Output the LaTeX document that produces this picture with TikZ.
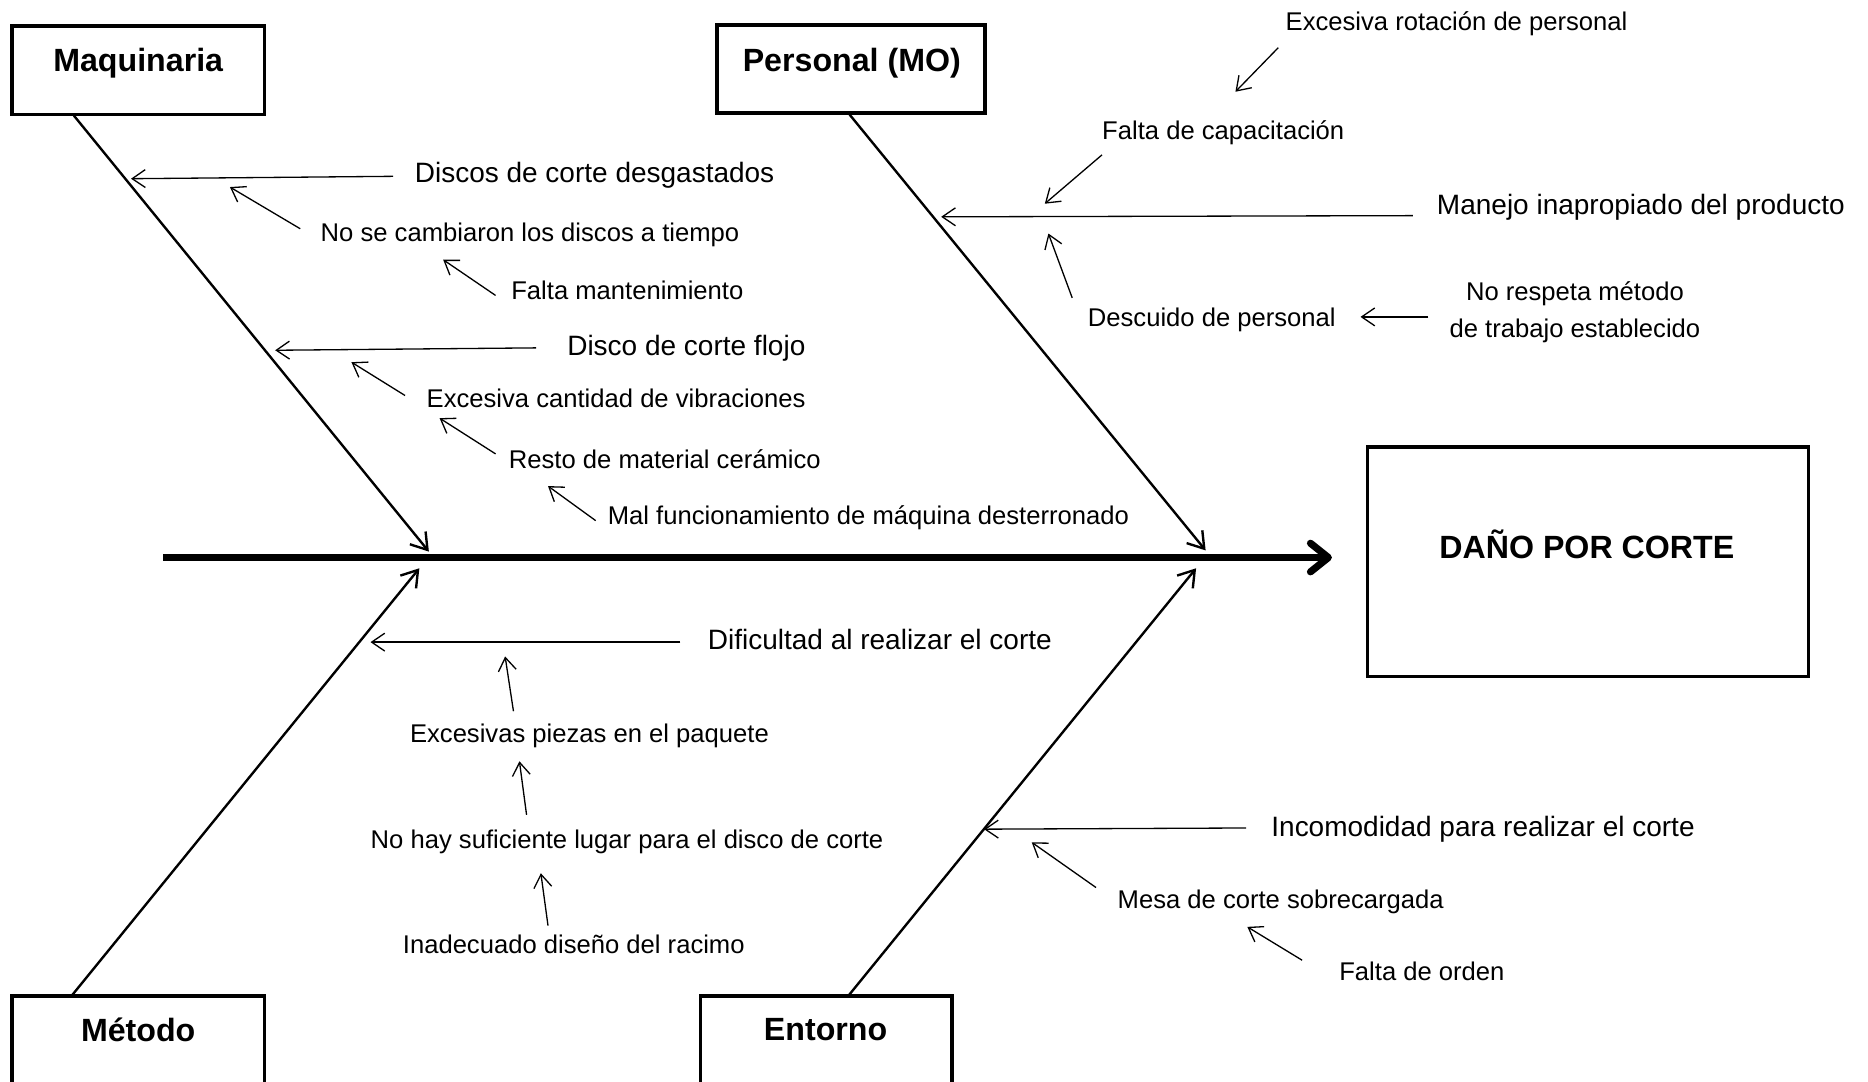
\documentclass[tikz,border=0pt]{standalone}
\usepackage{fontspec}
\setmainfont{Liberation Sans}
\usetikzlibrary{arrows.meta}
\begin{document}
\begin{tikzpicture}[x=1pt,y=-1pt,
  cause/.style={font=\fontsize{23.5}{28}\selectfont, inner sep=0pt, anchor=base west},
  sub/.style={font=\fontsize{21.5}{26}\selectfont, inner sep=0pt, anchor=base west},
  title/.style={font=\fontsize{27}{32}\selectfont\bfseries, inner sep=0pt, anchor=base},
  frame/.style={draw, line width=3pt, inner sep=0pt},
  bone/.style={line width=2pt, -{Straight Barb[length=13pt,width=17pt,line width=2pt]}},
  link/.style={line width=1.1pt, -{Straight Barb[length=11pt,width=15pt]}},
  spine/.style={line width=6.5pt, -{Straight Barb[length=15pt,width=24pt,line width=6pt,round]}}
]
\useasboundingbox (0,0) rectangle (1568,908);

% category boxes
\node[frame, minimum width=212pt, minimum height=74pt] (mq) at (116,59) {};
\node[title] (mqt) at (116,60) {Maquinaria};
\node[frame, minimum width=225pt, minimum height=74pt] (pe) at (714.5,58) {};
\node[title] (pet) at (715,60) {Personal (MO)};
\node[frame, minimum width=212pt, minimum height=74pt] (me) at (116,873) {};
\node[title] (met) at (116,874) {Método};
\node[frame, minimum width=211pt, minimum height=74pt] (en) at (693.5,873) {};
\node[title] (ent) at (693,873) {Entorno};
\node[frame, minimum width=370pt, minimum height=193pt] (ef) at (1333,471.5) {};
\node[title] (eft) at (1332,469) {DAÑO POR CORTE};

% spine
\coordinate (sp0) at (137,468);
\coordinate (sp1) at (1118,468);
\draw[spine] (sp0) -- (sp1);

% main bones
\coordinate (mqa) at (62,97);   \coordinate (mqb) at (360,463);
\coordinate (pea) at (713,96);  \coordinate (peb) at (1012,462);
\coordinate (mea) at (60,836);  \coordinate (meb) at (352,477);
\coordinate (ena) at (712,836); \coordinate (enb) at (1004,477);
\draw[bone] (mqa) -- (mqb);
\draw[bone] (pea) -- (peb);
\draw[bone] (mea) -- (meb);
\draw[bone] (ena) -- (enb);

% Maquinaria
\node[cause] (c1) at (348,153) {Discos de corte desgastados};
\node[sub]   (c1a) at (269,203) {No se cambiaron los discos a tiempo};
\node[sub]   (c1b) at (429,251) {Falta mantenimiento};
\node[cause] (c2) at (476,298) {Disco de corte flojo};
\node[sub]   (c2a) at (358,342) {Excesiva cantidad de vibraciones};
\node[sub]   (c2b) at (427,393) {Resto de material cerámico};
\node[sub]   (c2c) at (510,440) {Mal funcionamiento de máquina desterronado};

% Personal
\node[sub]   (c3b) at (1079,26) {Excesiva rotación de personal};
\node[sub]   (c3a) at (925,117) {Falta de capacitación};
\node[cause] (c3) at (1206,180) {Manejo inapropiado del producto};
\node[sub]   (c3c) at (913,274) {Descuido de personal};
\node[font=\fontsize{21.5}{31}\selectfont, inner sep=0pt, align=center] (c3d) at (1322,262)
  {No respeta método\\de trabajo establecido};

% Método
\node[cause] (c4) at (594,545) {Dificultad al realizar el corte};
\node[sub]   (c4a) at (344,623) {Excesivas piezas en el paquete};
\node[sub]   (c4b) at (311,712) {No hay suficiente lugar para el disco de corte};
\node[sub]   (c4c) at (338,800) {Inadecuado diseño del racimo};

% Entorno
\node[cause] (c5) at (1067,702) {Incomodidad para realizar el corte};
\node[sub]   (c5a) at (938,763) {Mesa de corte sobrecargada};
\node[sub]   (c5b) at (1124,823) {Falta de orden};

% cause arrows
\coordinate (l1s) at (330,148);  \coordinate (l1e) at (110,150);
\coordinate (l2s) at (252,192);  \coordinate (l2e) at (193,157);
\coordinate (l3s) at (416,248);  \coordinate (l3e) at (372,218);
\coordinate (l4s) at (450,292);  \coordinate (l4e) at (231,294);
\coordinate (l5s) at (340,332);  \coordinate (l5e) at (295,304);
\coordinate (l6s) at (416,381);  \coordinate (l6e) at (369,351);
\coordinate (l7s) at (500,437);  \coordinate (l7e) at (460,408);
\coordinate (l8s) at (1073,40);  \coordinate (l8e) at (1037,77);
\coordinate (l9s) at (925,130);  \coordinate (l9e) at (877,171);
\coordinate (l10s) at (1186,181); \coordinate (l10e) at (790,182);
\coordinate (l11s) at (900,250); \coordinate (l11e) at (880,196);
\coordinate (l12s) at (1199,266); \coordinate (l12e) at (1142,266);
\coordinate (l13s) at (571,539); \coordinate (l13e) at (311,539);
\coordinate (l14s) at (431,597); \coordinate (l14e) at (424,551);
\coordinate (l15s) at (442,684); \coordinate (l15e) at (436,639);
\coordinate (l16s) at (460,777); \coordinate (l16e) at (454,733);
\coordinate (l17s) at (1046,695); \coordinate (l17e) at (826,696);
\coordinate (l18s) at (920,745); \coordinate (l18e) at (866,707);
\coordinate (l19s) at (1093,806); \coordinate (l19e) at (1047,778);
\foreach \i in {1,...,19} \draw[link] (l\i s) -- (l\i e);

\end{tikzpicture}
\end{document}
